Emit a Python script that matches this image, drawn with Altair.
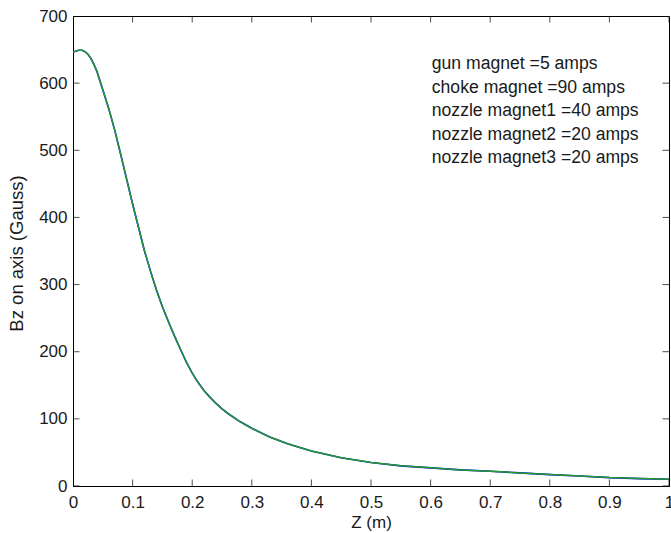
import altair as alt
import pandas as pd

# Curve: Bz on axis (Gauss) vs Z (m)
z_vals = [0.000, 0.005, 0.010, 0.015, 0.020, 0.025, 0.030, 0.035, 0.040, 0.045,
          0.050, 0.060, 0.070, 0.080, 0.090, 0.100, 0.110, 0.120, 0.130, 0.140,
          0.150, 0.160, 0.170, 0.180, 0.190, 0.200, 0.210, 0.220, 0.230, 0.240,
          0.250, 0.260, 0.280, 0.300, 0.330, 0.360, 0.400, 0.450, 0.500, 0.550,
          0.600, 0.650, 0.700, 0.750, 0.800, 0.850, 0.900, 0.950, 1.000]
bz_vals = [646, 648, 649, 649, 647, 643, 637, 628, 618, 604,
           590, 562, 530, 494, 457, 420, 385, 350, 320, 292,
           267, 245, 224, 204, 185, 168, 154, 142, 132, 123,
           115, 108, 96, 86, 73, 63, 52, 42, 35, 30,
           27, 24, 22, 19.5, 17, 15, 12.5, 11, 10]

x_ticks = [0, 0.1, 0.2, 0.3, 0.4, 0.5, 0.6, 0.7, 0.8, 0.9, 1.0]
y_ticks = [0, 100, 200, 300, 400, 500, 600, 700]

notes = ["gun magnet =5 amps", "choke magnet =90 amps", "nozzle magnet1 =40 amps",
         "nozzle magnet2 =20 amps", "nozzle magnet3 =20 amps"]
note_y = [621, 586, 551, 516, 481]
note_x = [0.602] * 5

W, H = 596, 470
FONT = "Liberation Sans"
FS = 17
TXT = "#1a1a1a"

df = pd.DataFrame({"z": z_vals, "bz": bz_vals})
xs = alt.Scale(domain=[0, 1], nice=False, zero=False)
ys = alt.Scale(domain=[0, 700], nice=False)

x_axis = alt.Axis(values=x_ticks, format="~g", title="Z (m)", ticks=False,
                  labelPadding=8, grid=False, domainColor="black",
                  labelFont=FONT, labelFontSize=FS, labelColor=TXT,
                  titleFont=FONT, titleFontSize=17, titleFontWeight="normal",
                  titleColor=TXT, titleY=41, titleBaseline="alphabetic",
                  labelFlush=False, labelOverlap=False)
y_axis = alt.Axis(values=y_ticks, title="Bz on axis (Gauss)", ticks=False,
                  labelPadding=6, grid=False, domainColor="black",
                  labelFont=FONT, labelFontSize=FS, labelColor=TXT,
                  titleFont=FONT, titleFontSize=18.5, titleFontWeight="normal",
                  titleColor=TXT, titleX=-57, titleY=H / 2 + 2, titleAngle=270,
                  titleAlign="center", titleBaseline="middle",
                  labelFlush=False, labelOverlap=False)

blue = alt.Chart(df).mark_line(color="#0000ff", strokeWidth=1.6, clip=True).encode(
    x=alt.X("z:Q", scale=xs, axis=x_axis),
    y=alt.Y("bz:Q", scale=ys, axis=y_axis),
)
green = alt.Chart(df).mark_line(color="#22992a", strokeWidth=1.5, clip=True).encode(
    x=alt.X("z:Q", scale=xs),
    y=alt.Y("bz:Q", scale=ys),
)

xt = pd.DataFrame({"t": x_ticks})
yt = pd.DataFrame({"t": y_ticks})
tick_x_bottom = alt.Chart(xt).mark_tick(clip=True, size=13, thickness=1, color="black",
                                         orient="vertical").encode(
    x=alt.X("t:Q", scale=xs), y=alt.value(H))
tick_x_top = alt.Chart(xt).mark_tick(clip=True, size=13, thickness=1, color="black",
                                      orient="vertical").encode(
    x=alt.X("t:Q", scale=xs), y=alt.value(0))
tick_y_left = alt.Chart(yt).mark_tick(clip=True, size=13, thickness=1, color="black",
                                       orient="horizontal").encode(
    y=alt.Y("t:Q", scale=ys), x=alt.value(0))
tick_y_right = alt.Chart(yt).mark_tick(clip=True, size=13, thickness=1, color="black",
                                        orient="horizontal").encode(
    y=alt.Y("t:Q", scale=ys), x=alt.value(W))

ndf = pd.DataFrame({"x": note_x, "y": note_y, "label": notes})
text = alt.Chart(ndf).mark_text(align="left", baseline="alphabetic", font=FONT,
                                fontSize=17.6, color=TXT).encode(
    x=alt.X("x:Q", scale=xs), y=alt.Y("y:Q", scale=ys), text="label:N")

chart = alt.layer(blue, green, tick_x_bottom, tick_x_top, tick_y_left, tick_y_right, text).properties(
    width=W, height=H,
    autosize=alt.AutoSizeParams(type="none"),
    padding={"left": 73, "top": 16, "right": 2, "bottom": 47},
    background="white",
).configure_view(stroke="black", strokeWidth=1)

chart.save("out.html", embed_options={"renderer": "svg", "actions": False})
